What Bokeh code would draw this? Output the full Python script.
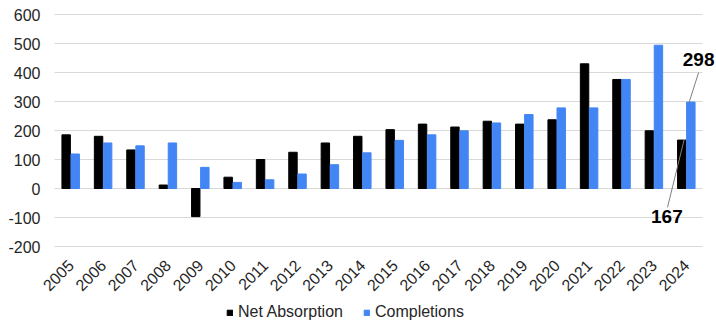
from bokeh.plotting import figure
from bokeh.models import (ColumnDataSource, Range1d, Label, Legend, LegendItem)
from bokeh.core.properties import value
from bokeh.embed import file_html
from bokeh.resources import INLINE
import math

# Annual net absorption and completions
years = [str(y) for y in range(2005, 2025)]
net_absorption = [185, 180, 133, 12, -97, 39, 100, 125, 157, 180,
                  203, 222, 212, 232, 222, 237, 430, 376, 199, 167]
completions = [119, 157, 147, 157, 73, 21, 30, 50, 82, 123,
               166, 185, 199, 226, 255, 278, 278, 376, 494, 298]
y_ticks = [-200, -100, 0, 100, 200, 300, 400, 500, 600]

FONT = "Liberation Sans"
TEXT = "#262626"
BLACK = "#000000"
BLUE = "#4285F4"
GRID = "#d9d9d9"
OFF = 0.14
BAR_W = 0.26

# Page geometry (pixels): the chart canvas and the plotting box inside it
W, H = 716, 321
BOX_L, BOX_R, BOX_T, BOX_B = 54, 702, 14, 246

n = len(years)
y_lo, y_hi = y_ticks[0], y_ticks[-1]
px_x = (BOX_R - BOX_L) / n                 # pixels per year slot
px_y = (BOX_B - BOX_T) / (y_hi - y_lo)     # pixels per unit

# the whole canvas is the drawing frame; ranges put the plotting box in place
x_range = Range1d(-BOX_L / px_x, (W - BOX_L) / px_x)
y_range = Range1d(y_hi - (H - BOX_T) / px_y, y_hi + BOX_T / px_y)

p = figure(width=W, height=H, output_backend="svg", toolbar_location=None,
           x_range=x_range, y_range=y_range,
           x_axis_type=None, y_axis_type=None,
           min_border=0, outline_line_color=None)

# one slot per year, centred on i + 0.5
xs = [i + 0.5 for i in range(n)]

# horizontal gridlines
p.segment(x0=[0] * len(y_ticks), x1=[n] * len(y_ticks), y0=y_ticks, y1=y_ticks,
          line_color=GRID, line_width=1)

source = ColumnDataSource(dict(
    x_na=[x - OFF for x in xs], x_c=[x + OFF for x in xs],
    na=net_absorption, comp=completions))
r_na = p.vbar(x="x_na", top="na", width=BAR_W, source=source, color=BLACK)
r_c = p.vbar(x="x_c", top="comp", width=BAR_W, source=source, color=BLUE)

# y tick labels, right-aligned left of the box
p.text(x=[-14 / px_x] * len(y_ticks), y=y_ticks,
       text=[str(t) for t in y_ticks],
       text_font=value(FONT), text_font_size="16px", text_color=TEXT,
       text_align="right", text_baseline="middle")

# slanted year labels under the box
p.text(x=xs, y=[y_lo - 16 / px_y] * n, text=years, angle=math.pi / 4,
       text_font=value(FONT), text_font_size="16px", text_color=TEXT,
       text_align="right", text_baseline="middle")

# Callouts for the latest year
xc = xs[-1]
na_last = net_absorption[-1]
c_last = completions[-1]
p.segment(x0=[xc + OFF - 0.05, xc - OFF + 0.07], y0=[c_last, na_last],
          x1=[xc + 0.38, xc - 0.58], y1=[c_last + 102, na_last - 232],
          line_color="#7f7f7f", line_width=1)

p.add_layout(Label(x=xc + 0.38, y=c_last + 126, text=str(c_last),
                   text_font=FONT, text_font_size="19px", text_font_style="bold",
                   text_align="center", text_baseline="bottom", text_color=BLACK))
p.add_layout(Label(x=xc - 0.6, y=na_last - 242, text=str(na_last),
                   text_font=FONT, text_font_size="19px", text_font_style="bold",
                   text_align="center", text_baseline="top", text_color=BLACK))

# Legend along the bottom edge
lg = Legend(items=[LegendItem(label="Net Absorption", renderers=[r_na]),
                   LegendItem(label="Completions", renderers=[r_c])],
            location=(226, 0), orientation="horizontal",
            border_line_color=None, background_fill_alpha=0,
            padding=0, margin=0, spacing=20,
            glyph_width=7, glyph_height=7, label_standoff=5,
            label_text_font=FONT, label_text_font_size="16px",
            label_text_color=TEXT, label_height=16)
p.add_layout(lg, "center")

open("out.html", "w").write(file_html(p, INLINE))
